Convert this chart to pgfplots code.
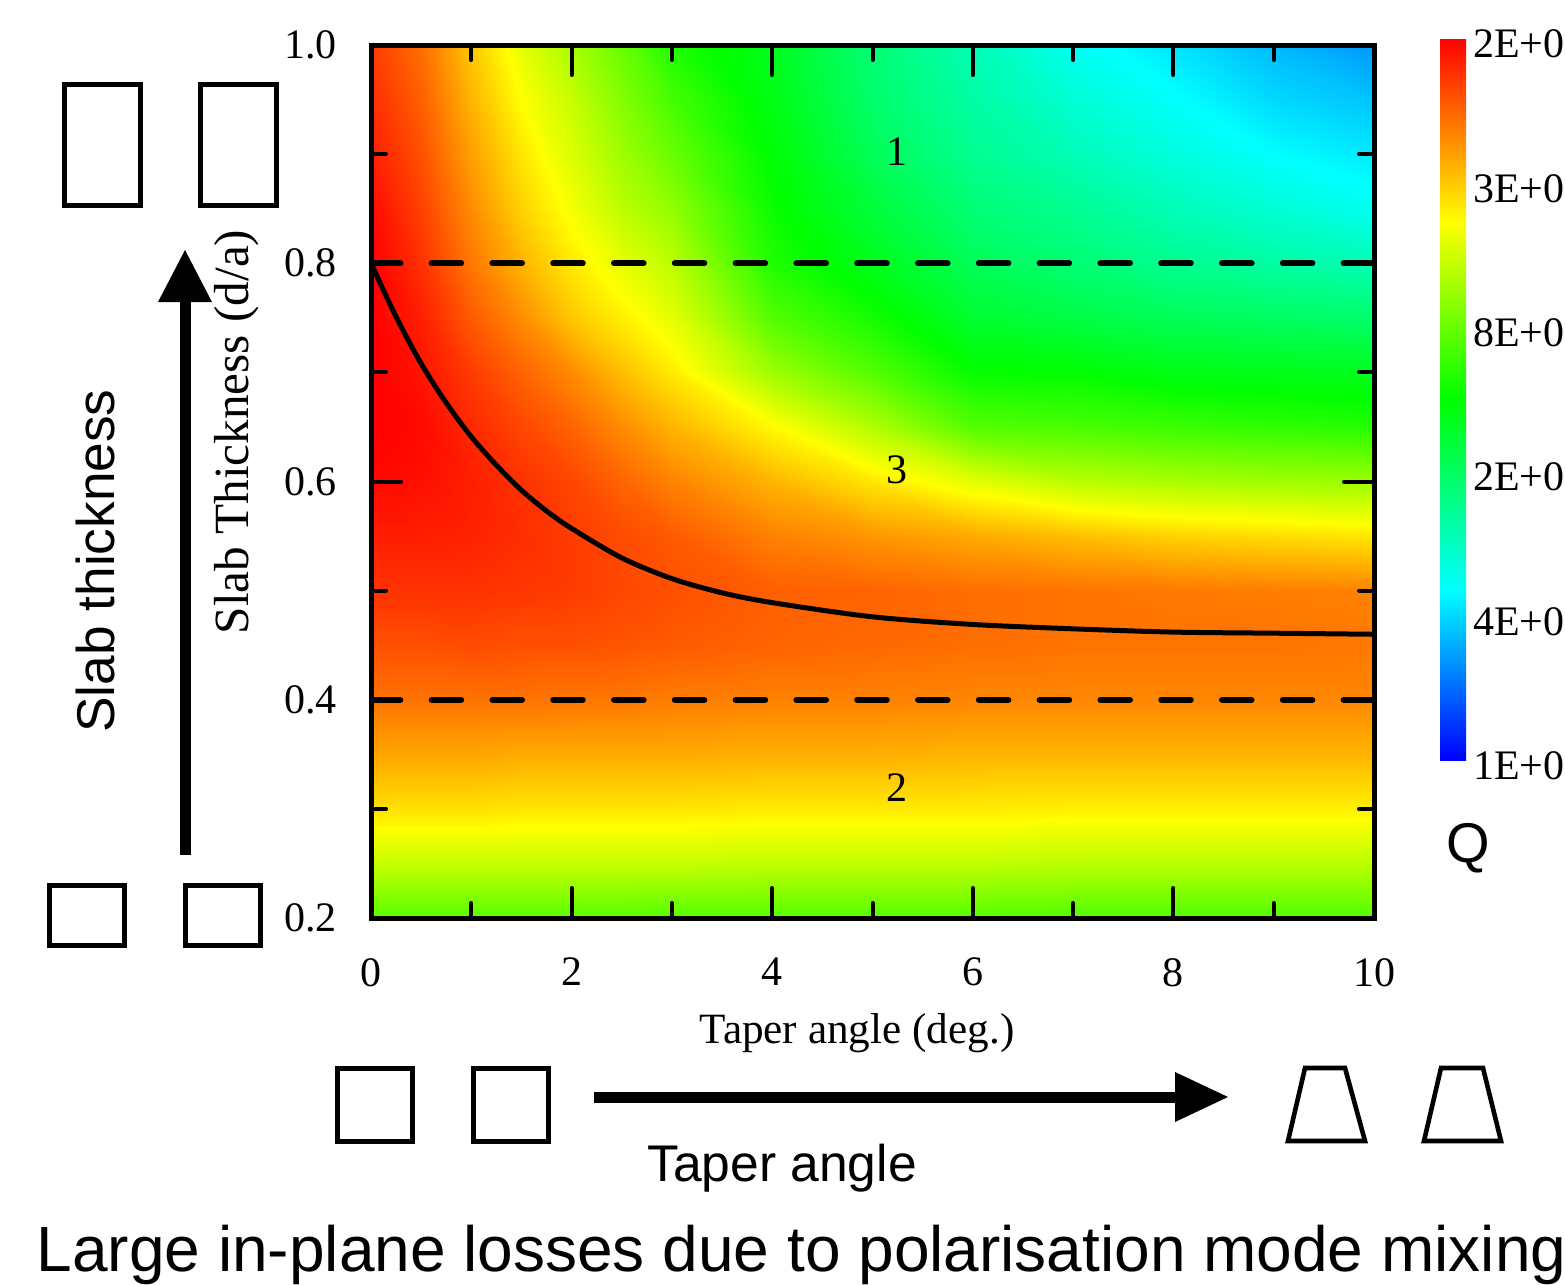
\documentclass[border=0pt]{standalone}
\usepackage{pgfplots}
\usepackage{pgfplotstable}
\pgfplotsset{compat=1.18}
\usepackage{fontspec}
\setmainfont{Liberation Serif}
\newfontfamily\sansf{Liberation Sans}

\pgfplotsset{colormap={qmap}{rgb255(0pt)=(0,0,255); rgb255(47pt)=(0,255,255);
  rgb255(100pt)=(0,255,0); rgb255(149pt)=(255,255,0); rgb255(200pt)=(255,0,0)}}

% colour index of log Q (0 = bottom of colour bar, 1 = top), x varies fastest
\pgfplotstableread{
x y v
0 0.20 0.585
0.5 0.20 0.585
1 0.20 0.585
1.5 0.20 0.585
2 0.20 0.585
2.5 0.20 0.585
3 0.20 0.58
4 0.20 0.58
5 0.20 0.58
6 0.20 0.58
7 0.20 0.575
8 0.20 0.575
9 0.20 0.575
10 0.20 0.575
0 0.25 0.69
0.5 0.25 0.69
1 0.25 0.69
1.5 0.25 0.69
2 0.25 0.69
2.5 0.25 0.69
3 0.25 0.69
4 0.25 0.685
5 0.25 0.685
6 0.25 0.685
7 0.25 0.68
8 0.25 0.68
9 0.25 0.68
10 0.25 0.68
0 0.30 0.775
0.5 0.30 0.775
1 0.30 0.775
1.5 0.30 0.77
2 0.30 0.77
2.5 0.30 0.77
3 0.30 0.77
4 0.30 0.765
5 0.30 0.765
6 0.30 0.765
7 0.30 0.76
8 0.30 0.76
9 0.30 0.76
10 0.30 0.76
0 0.35 0.835
0.5 0.35 0.835
1 0.35 0.835
1.5 0.35 0.83
2 0.35 0.83
2.5 0.35 0.83
3 0.35 0.83
4 0.35 0.825
5 0.35 0.825
6 0.35 0.82
7 0.35 0.82
8 0.35 0.82
9 0.35 0.82
10 0.35 0.82
0 0.40 0.885
0.5 0.40 0.885
1 0.40 0.885
1.5 0.40 0.885
2 0.40 0.88
2.5 0.40 0.88
3 0.40 0.875
4 0.40 0.87
5 0.40 0.87
6 0.40 0.865
7 0.40 0.865
8 0.40 0.865
9 0.40 0.865
10 0.40 0.865
0 0.45 0.92
0.5 0.45 0.92
1 0.45 0.925
1.5 0.45 0.92
2 0.45 0.92
2.5 0.45 0.915
3 0.45 0.91
4 0.45 0.90
5 0.45 0.895
6 0.45 0.89
7 0.45 0.885
8 0.45 0.885
9 0.45 0.885
10 0.45 0.88
0 0.50 0.95
0.5 0.50 0.95
1 0.50 0.95
1.5 0.50 0.945
2 0.50 0.94
2.5 0.50 0.93
3 0.50 0.92
4 0.50 0.905
5 0.50 0.90
6 0.50 0.89
7 0.50 0.885
8 0.50 0.88
9 0.50 0.875
10 0.50 0.87
0 0.55 0.97
0.5 0.55 0.97
1 0.55 0.965
1.5 0.55 0.955
2 0.55 0.94
2.5 0.55 0.925
3 0.55 0.91
4 0.55 0.87
5 0.55 0.85
6 0.55 0.83
7 0.55 0.81
8 0.55 0.79
9 0.55 0.78
10 0.55 0.77
0 0.60 0.99
0.5 0.60 0.985
1 0.60 0.97
1.5 0.60 0.95
2 0.60 0.93
2.5 0.60 0.90
3 0.60 0.87
4 0.60 0.82
5 0.60 0.77
6 0.60 0.72
7 0.60 0.68
8 0.60 0.665
9 0.60 0.655
10 0.60 0.65
0 0.65 1.00
0.5 0.65 0.99
1 0.65 0.96
1.5 0.65 0.93
2 0.65 0.90
2.5 0.65 0.86
3 0.65 0.82
4 0.65 0.75
5 0.65 0.67
6 0.65 0.58
7 0.65 0.57
8 0.65 0.555
9 0.65 0.545
10 0.65 0.535
0 0.70 1.00
0.5 0.70 0.98
1 0.70 0.94
1.5 0.70 0.90
2 0.70 0.86
2.5 0.70 0.81
3 0.70 0.765
4 0.70 0.65
5 0.70 0.58
6 0.70 0.505
7 0.70 0.50
8 0.70 0.48
9 0.70 0.475
10 0.70 0.47
0 0.75 1.00
0.5 0.75 0.97
1 0.75 0.91
1.5 0.75 0.86
2 0.75 0.80
2.5 0.75 0.76
3 0.75 0.72
4 0.75 0.58
5 0.75 0.52
6 0.75 0.45
7 0.75 0.43
8 0.75 0.41
9 0.75 0.40
10 0.75 0.39
0 0.80 1.00
0.5 0.80 0.95
1 0.80 0.88
1.5 0.80 0.82
2 0.80 0.765
2.5 0.80 0.72
3 0.80 0.68
4 0.80 0.53
5 0.80 0.47
6 0.80 0.41
7 0.80 0.38
8 0.80 0.35
9 0.80 0.33
10 0.80 0.31
0 0.85 0.99
0.5 0.85 0.935
1 0.85 0.86
1.5 0.85 0.79
2 0.85 0.735
2.5 0.85 0.68
3 0.85 0.64
4 0.85 0.51
5 0.85 0.44
6 0.85 0.38
7 0.85 0.35
8 0.85 0.31
9 0.85 0.28
10 0.85 0.25
0 0.90 0.97
0.5 0.90 0.92
1 0.90 0.84
1.5 0.90 0.77
2 0.90 0.71
2.5 0.90 0.65
3 0.90 0.60
4 0.90 0.495
5 0.90 0.41
6 0.90 0.35
7 0.90 0.31
8 0.90 0.27
9 0.90 0.235
10 0.90 0.215
0 0.95 0.955
0.5 0.95 0.905
1 0.95 0.82
1.5 0.95 0.745
2 0.95 0.69
2.5 0.95 0.625
3 0.95 0.565
4 0.95 0.48
5 0.95 0.39
6 0.95 0.33
7 0.95 0.28
8 0.95 0.24
9 0.95 0.20
10 0.95 0.18
0 1.00 0.94
0.5 1.00 0.89
1 1.00 0.80
1.5 1.00 0.72
2 1.00 0.66
2.5 1.00 0.60
3 1.00 0.53
4 1.00 0.47
5 1.00 0.38
6 1.00 0.31
7 1.00 0.25
8 1.00 0.21
9 1.00 0.17
10 1.00 0.14
}\qdata

\begin{document}
\begin{tikzpicture}
\begin{axis}[
    at={(92.75pt,-229.5pt)}, anchor=south west,
    scale only axis, width=250.75pt, height=218.25pt,
    xmin=0, xmax=10, ymin=0.2, ymax=1.0,
    enlargelimits=false,
    axis on top,
    colormap name=qmap,
    point meta min=0, point meta max=1,
    xtick={0,2,...,10}, ytick={0.2,0.4,...,1.0},
    minor x tick num=1, minor y tick num=1,
    major tick length=7.5pt, minor tick length=3.75pt,
    tick style={black, line width=1pt, line cap=round},
    axis line style={line width=1.25pt},
    tick label style={font=\fontsize{10.5}{12}\selectfont},
    /pgf/number format/assume math mode=true,
    yticklabel style={xshift=-5pt, /pgf/number format/fixed,
      /pgf/number format/fixed zerofill, /pgf/number format/precision=1},
    xticklabel style={yshift=-6.5pt},
    colorbar,
    colorbar style={
      at={(parent axis.north east)}, anchor=north west,
      xshift=8pt, yshift=1.75pt,
      width=6.5pt, height=180.5pt,
      ytick={0,0.2,0.4,0.6,0.8,1},
      yticklabels={1E+0,4E+0,2E+0,8E+0,3E+0,2E+0},
      major tick length=0pt, minor tick num=0,
      tick style={draw=none},
      axis line style={draw=none},
      yticklabel style={font=\fontsize{10.5}{12}\selectfont, xshift=-1.75pt, yshift=-1.5pt},
    },
  ]
  \addplot[surf, shader=interp, mesh/cols=14, point meta=explicit]
    table[x=x, y=y, meta=v] {\qdata};

  % region borders
  \addplot[black, line width=1.6pt, dash pattern=on 7.3pt off 7.9pt, line cap=round]
    coordinates {(0,0.8) (10,0.8)};
  \addplot[black, line width=1.6pt, dash pattern=on 7.3pt off 7.9pt, line cap=round]
    coordinates {(0,0.4) (10,0.4)};
  \addplot[black, line width=1.25pt, smooth] coordinates {
    (0,0.800) (0.25,0.751) (0.5,0.708) (0.75,0.672) (1,0.641) (1.25,0.615)
    (1.5,0.592) (1.75,0.573) (2,0.557) (2.5,0.530) (3,0.511) (3.5,0.498)
    (4,0.489) (5,0.476) (6,0.469) (7,0.465) (8,0.462) (9,0.461) (10,0.460)
  };
\end{axis}

% sketches and titles, in pixel units of the reference, y pointing down
\begin{scope}[x=0.25pt, y=-0.25pt]
  \node[font=\fontsize{10.5}{12}\selectfont] at (897,152) {1};
  \node[font=\fontsize{10.5}{12}\selectfont] at (897,470) {3};
  \node[font=\fontsize{10.5}{12}\selectfont] at (897,788) {2};
  \node[font=\fontsize{10.8}{13}\selectfont] at (857,1033) {Taper angle (deg.)};
  \node[font=\fontsize{12.3}{14}\selectfont, rotate=90] at (237,432) {Slab Thickness (d/a)};
  \node[font=\sansf\fontsize{14}{16}\selectfont] at (1468,848) {Q};

  % slab thickness sketch
  \draw[line width=1.25pt] (64.5,84.5) rectangle (140,205);
  \draw[line width=1.25pt] (200.5,84.5) rectangle (276,205);
  \draw[line width=1.25pt] (49.5,885.5) rectangle (124.5,945.5);
  \draw[line width=1.25pt] (185.5,885.5) rectangle (260.5,945.5);
  \draw[line width=2.75pt] (185,855) -- (185,298);
  \fill (158,302) -- (212,302) -- (185,250) -- cycle;
  \node[font=\sansf\fontsize{13.3}{15}\selectfont, rotate=90] at (95,561) {Slab thickness};

  % taper angle sketch
  \draw[line width=1.25pt] (337,1068) rectangle (412,1141);
  \draw[line width=1.25pt] (473,1068) rectangle (548,1141);
  \draw[line width=2.75pt] (594,1097) -- (1178,1097);
  \fill (1175,1072) -- (1175,1122) -- (1228,1097) -- cycle;
  \draw[line width=1.15pt] (1305,1068) -- (1345,1068) -- (1365,1141) -- (1288,1141) -- cycle;
  \draw[line width=1.15pt] (1441,1068) -- (1483,1068) -- (1501,1141) -- (1424,1141) -- cycle;
  \node[font=\sansf\fontsize{12.9}{15}\selectfont] at (782,1168) {Taper angle};

  \node[font=\sansf\fontsize{16}{19}\selectfont, anchor=west, inner sep=0pt] at (36,1255)
    {Large in-plane losses due to polarisation mode mixing};

  % the page is exactly the reference's frame
  \pgfresetboundingbox
  \useasboundingbox (0,0) rectangle (1565,1285);
\end{scope}
\end{tikzpicture}
\end{document}
